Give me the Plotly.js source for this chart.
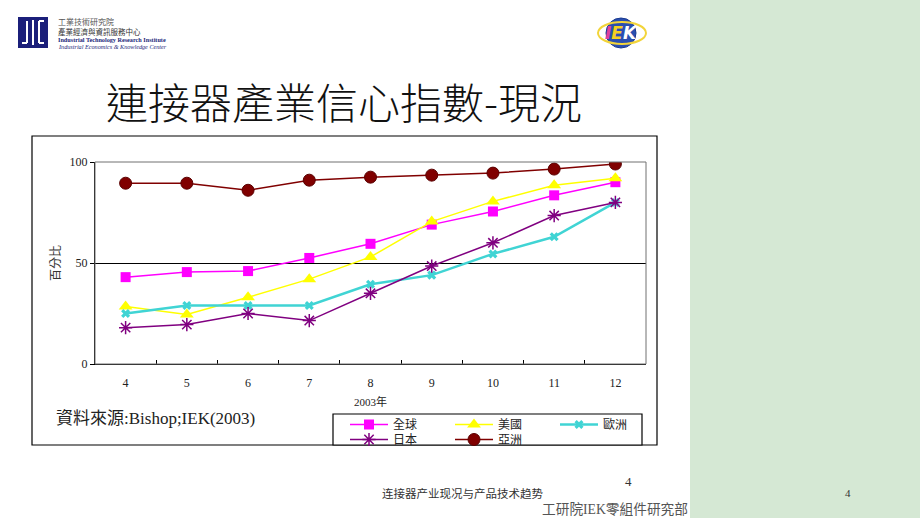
<!DOCTYPE html>
<html>
<head>
<meta charset="utf-8">
<script src="https://cdn.plot.ly/plotly-3.0.1.min.js"></script>
<style>html,body{margin:0;padding:0;background:#fff;}#chart{width:920px;height:518px;}</style>
</head>
<body>
<div id="chart"></div>
<script>
// ---- data ----
const months = ['4','5','6','7','8','9','10','11','12'];
const seriesNames = ['全球','美國','歐洲','日本','亞洲'];
const globalVals = [43, 45.5, 46, 52.5, 59.5, 69, 75.5, 83.5, 90];
const usaVals    = [28.5, 24.5, 33, 42, 53, 70.5, 80.5, 88.5, 92];
const europeVals = [25, 29, 29, 29, 39.5, 44, 54.5, 63, 80];
const japanVals  = [18, 19.5, 25, 21.5, 35, 48.5, 60, 73.5, 80];
const asiaVals   = [89.5, 89.5, 86, 91, 92.5, 93.5, 94.5, 96.5, 99];
const yTicks = [0, 50, 100];

// ---- layout helpers (pixel -> paper) ----
const W = 920, H = 518;
const M = {l: 95, r: 274, t: 162, b: 154};
const PW = W - M.l - M.r, PH = H - M.t - M.b;
const X = px => (px - M.l) / PW;
const Y = py => (H - M.b - py) / PH;

const SERIF = 'Liberation Serif, Noto Sans CJK TC, serif';
const CJK = 'Noto Sans CJK TC, sans-serif';

const traces = [
  {name: seriesNames[0], y: globalVals, line: {color: '#ff00ff', width: 1.5},
   marker: {symbol: 'square', size: 10, color: '#ff00ff'}, legend: 'legend'},
  {name: seriesNames[1], y: usaVals, line: {color: '#ffff00', width: 1.5},
   marker: {symbol: 'triangle-up', size: 12, color: '#ffff00'}, legend: 'legend'},
  {name: seriesNames[2], y: europeVals, line: {color: '#40d4d4', width: 2.5},
   marker: {symbol: 'x', size: 8, color: '#40d4d4'}, legend: 'legend'},
  {name: seriesNames[3], y: japanVals, line: {color: '#800080', width: 1.5},
   marker: {symbol: 'asterisk-open', size: 11, color: '#800080', line: {color: '#800080', width: 1.5}}, legend: 'legend2'},
  {name: seriesNames[4], y: asiaVals, line: {color: '#800000', width: 1.5},
   marker: {symbol: 'circle', size: 12, color: '#800000', line: {color: '#5a0000', width: 1}}, legend: 'legend2'}
].map(t => Object.assign({type: 'scatter', mode: 'lines+markers', x: months, hoverinfo: 'skip'}, t));

const shapes = [
  // green side panel
  {type: 'rect', xref: 'paper', yref: 'paper', x0: X(690), x1: X(925), y0: Y(525), y1: Y(-5),
   fillcolor: '#d5e8d4', line: {width: 0}, layer: 'below'},
  // chart frame
  {type: 'rect', xref: 'paper', yref: 'paper', x0: X(32), x1: X(657), y0: Y(445), y1: Y(136),
   fillcolor: '#ffffff', line: {color: '#000000', width: 1.2}, layer: 'below'},
  // legend box
  {type: 'rect', xref: 'paper', yref: 'paper', x0: X(333), x1: X(642), y0: Y(445), y1: Y(414),
   fillcolor: '#ffffff', line: {color: '#000000', width: 1.2}, layer: 'below'},
  // plot area border
  {type: 'rect', xref: 'paper', yref: 'paper', x0: 0, x1: 1, y0: 0, y1: 1,
   fillcolor: 'rgba(0,0,0,0)', line: {color: '#707070', width: 1}, layer: 'above'},
  // ITRI logo
  {type: 'rect', xref: 'paper', yref: 'paper', x0: X(18), x1: X(48), y0: Y(48), y1: Y(17),
   fillcolor: '#1b1f7a', line: {width: 0}, layer: 'below'},
  {type: 'line', xref: 'paper', yref: 'paper', x0: X(27), x1: X(27), y0: Y(43), y1: Y(21), line: {color: '#fff', width: 2}},
  {type: 'line', xref: 'paper', yref: 'paper', x0: X(22), x1: X(27), y0: Y(43), y1: Y(43), line: {color: '#fff', width: 2}},
  {type: 'line', xref: 'paper', yref: 'paper', x0: X(33), x1: X(33), y0: Y(45), y1: Y(20), line: {color: '#fff', width: 2}},
  {type: 'line', xref: 'paper', yref: 'paper', x0: X(39), x1: X(39), y0: Y(43), y1: Y(21), line: {color: '#fff', width: 2}},
  {type: 'line', xref: 'paper', yref: 'paper', x0: X(39), x1: X(44), y0: Y(43), y1: Y(43), line: {color: '#fff', width: 2}},
  {type: 'line', xref: 'paper', yref: 'paper', x0: X(39), x1: X(44), y0: Y(21), y1: Y(21), line: {color: '#fff', width: 2}},
  // IEK logo
  {type: 'circle', xref: 'paper', yref: 'paper', x0: X(606), x1: X(636), y0: Y(48), y1: Y(18),
   fillcolor: '#2a4fb0', line: {color: '#1a3a90', width: 1}},
  {type: 'circle', xref: 'paper', yref: 'paper', x0: X(598), x1: X(646), y0: Y(44), y1: Y(22),
   fillcolor: 'rgba(0,0,0,0)', line: {color: '#f2d43a', width: 2}}
];

const ann = (text, px, py, size, opts) => Object.assign({
  text: text, xref: 'paper', yref: 'paper', x: X(px), y: Y(py), showarrow: false,
  xanchor: 'left', yanchor: 'middle', font: {family: SERIF, size: size, color: '#222'}
}, opts || {});

const annotations = [
  ann('連接器產業信心指數-現況', 344, 100, 42, {xanchor: 'center', font: {family: CJK, size: 42, color: '#111', weight: 300}}),
  ann('資料來源:Bishop;IEK(2003)', 54, 418, 17, {font: {family: SERIF, size: 17, color: '#222'}}),
  ann('工業技術研究院', 56, 21, 8, {font: {family: CJK, size: 8, color: '#555'}}),
  ann('產業經濟與資訊服務中心', 56, 31, 7.5, {font: {family: CJK, size: 7.5, color: '#333'}}),
  ann('<b>Industrial Technology Research Institute</b>', 56, 40, 6.2, {font: {family: SERIF, size: 6.2, color: '#1b1f7a'}}),
  ann('<i>Industrial Economics &amp; Knowledge Center</i>', 56, 47, 6.2, {font: {family: SERIF, size: 6.2, color: '#1b1f7a'}}),
  ann("<b><i><span style='color:#e0409a'>I</span><span style='color:#f5d020'>E</span><span style='color:#ffffff'>K</span></i></b>", 621, 33, 17,
      {xanchor: 'center', font: {family: 'DejaVu Sans', size: 17, color: '#fff'}}),
  ann('连接器产业现况与产品技术趋势', 380, 493, 11.5, {font: {family: 'Noto Sans CJK SC, sans-serif', size: 11.5, color: '#333'}}),
  ann('4', 628, 481, 13, {xanchor: 'center', font: {family: SERIF, size: 13, color: '#333'}}),
  ann('工研院IEK零組件研究部', 540, 509, 13.7, {font: {family: SERIF, size: 13.7, color: '#555'}}),
  ann('4', 848, 493, 11, {xanchor: 'center', font: {family: SERIF, size: 11, color: '#333'}})
];

const legendCommon = {
  orientation: 'h', xanchor: 'left', yanchor: 'top', bgcolor: 'rgba(0,0,0,0)', borderwidth: 0,
  font: {family: SERIF, size: 12, color: '#222'}, itemwidth: 38, entrywidth: 52, entrywidthmode: 'pixels',
  traceorder: 'normal', itemclick: false, itemdoubleclick: false
};

const layout = {
  width: W, height: H,
  margin: M,
  paper_bgcolor: '#ffffff',
  plot_bgcolor: '#c0c0c0',
  showlegend: true,
  legend: Object.assign({}, legendCommon, {x: X(345), y: Y(410)}),
  legend2: Object.assign({}, legendCommon, {x: X(345), y: Y(425)}),
  xaxis: {
    type: 'category', range: [-0.5, 8.5], fixedrange: true,
    showline: true, linecolor: '#000', linewidth: 1, mirror: false,
    ticks: 'inside', tickson: 'boundaries', ticklen: 4, tickcolor: '#000',
    showgrid: false, zeroline: false, ticklabelstandoff: 8,
    tickfont: {family: SERIF, size: 12, color: '#222'},
    title: {text: '2003年', font: {family: SERIF, size: 11, color: '#222'}, standoff: 8}
  },
  yaxis: {
    range: [0, 100], fixedrange: true, tickmode: 'array', tickvals: yTicks,
    showline: true, linecolor: '#000', linewidth: 1,
    ticks: 'outside', ticklen: 4, tickcolor: '#000',
    showgrid: true, gridcolor: '#000', gridwidth: 1, zeroline: false,
    tickfont: {family: SERIF, size: 12, color: '#222'},
    title: {text: '百分比', font: {family: CJK, size: 12, color: '#333'}, standoff: 6}
  },
  shapes: shapes,
  annotations: annotations
};

Plotly.newPlot('chart', traces, layout, {staticPlot: true, displayModeBar: false});
</script>
</body>
</html>
